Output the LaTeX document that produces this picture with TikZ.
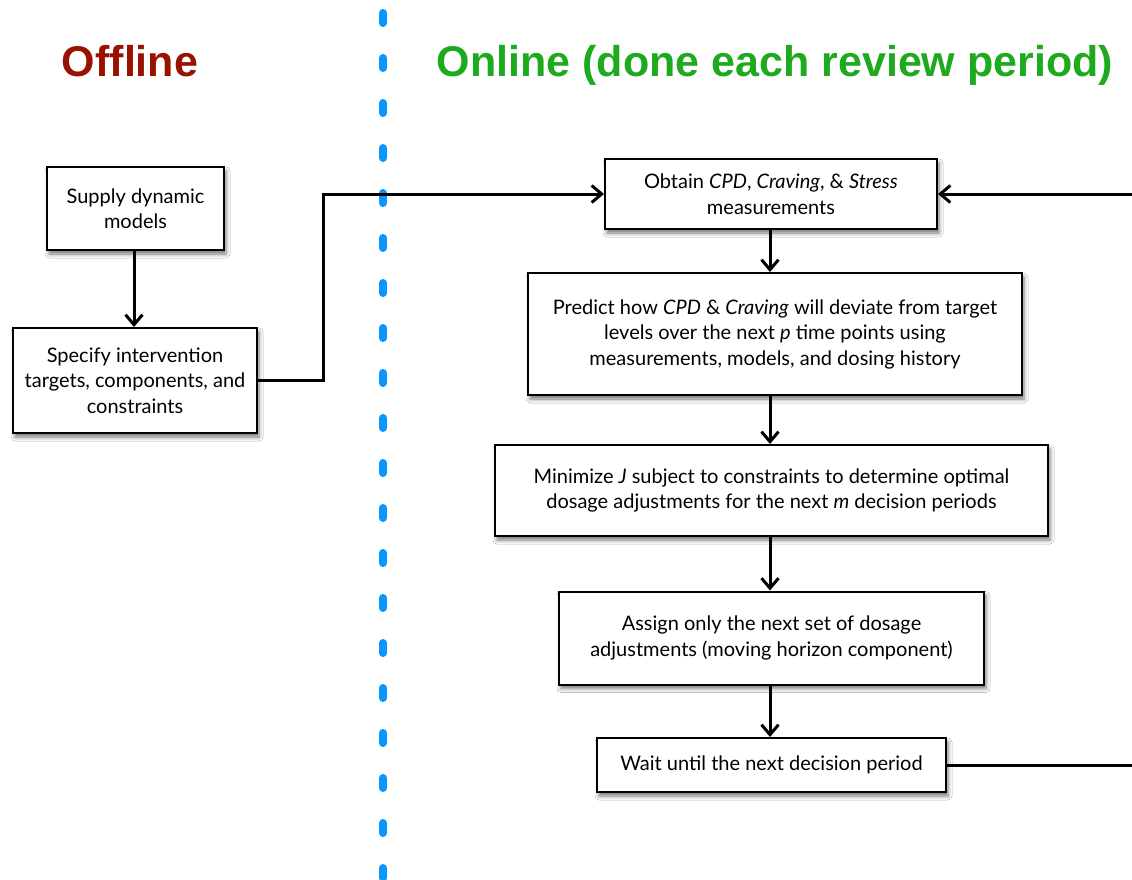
\documentclass[tikz,border=0pt]{standalone}
\usepackage{fontspec}
\setmainfont{Lato}
\newfontfamily\titlefont{Liberation Sans}
\usetikzlibrary{arrows.meta,shadows.blur}
\definecolor{offred}{RGB}{153,17,0}
\definecolor{ongreen}{RGB}{30,170,30}
\definecolor{dashblue}{RGB}{10,150,255}
\begin{document}
\begin{tikzpicture}[x=1pt,y=-1pt,
  box/.style={draw=black, line width=2pt, fill=white, align=center, inner sep=0pt,
    font=\fontsize{20}{25.5}\selectfont,
    blur shadow={shadow xshift=2pt, shadow yshift=-4pt, shadow blur radius=4pt, shadow opacity=55}},
  conn/.style={line width=3pt, -{Straight Barb[length=10pt,width=17pt]}},
  titletext/.style={font=\titlefont\bfseries\fontsize{43}{50}\selectfont, anchor=base}]
\useasboundingbox (0,0) rectangle (1132,880);
\clip (0,0) rectangle (1132,880);
\fill[white] (0,0) rectangle (1132,880);

% titles
\node[titletext, text=offred] (offline) at (130,77) {Offline};
\node[titletext, text=ongreen] (online) at (775,77) {Online (done each review period)};

% divider
\coordinate (divtop) at (383,13);
\coordinate (divbot) at (383,900);
\draw[dashblue, line width=8pt, line cap=round, dash pattern=on 10pt off 35pt] (divtop) -- (divbot);

% offline boxes
\node[box, minimum width=177pt, minimum height=83pt] (supply) at (135.5,208.5) {Supply dynamic\\models};
\node[box, minimum width=244pt, minimum height=105pt] (specify) at (135,380.5) {Specify intervention\\targets, components, and\\constraints};

% online boxes
\node[box, minimum width=332pt, minimum height=70pt] (obtain) at (771,194) {Obtain \textit{CPD}, \textit{Craving}, \& \textit{Stress}\\measurements};
\node[box, minimum width=494pt, minimum height=122pt] (predict) at (775,334) {Predict how \textit{CPD} \& \textit{Craving} will deviate from target\\levels over the next \textit{p} time points using\\measurements, models, and dosing history};
\node[box, minimum width=553pt, minimum height=91pt] (minimize) at (771.5,490.5) {Minimize \textit{J} subject to constraints to determine optimal\\dosage adjustments for the next \textit{m} decision periods};
\node[box, minimum width=425pt, minimum height=93pt] (assign) at (771.5,638) {Assign only the next set of dosage\\adjustments (moving horizon component)};
\node[box, minimum width=349pt, minimum height=54pt] (wait) at (771.5,765) {Wait until the next decision period};

% connectors
\coordinate (elbow) at (323,0);
\coordinate (loopx) at (1180,0);
\draw[conn] (supply.south -| 134,0) -- (specify.north -| 134,0);
\draw[conn] (specify.east) -- (specify.east -| elbow) |- (obtain.west);
\draw[conn] (obtain.south -| 770,0) -- (predict.north -| 770,0);
\draw[conn] (predict.south -| 770,0) -- (minimize.north -| 770,0);
\draw[conn] (minimize.south -| 770,0) -- (assign.north -| 770,0);
\draw[conn] (assign.south -| 770,0) -- (wait.north -| 770,0);
\draw[conn] (wait.east) -- (wait.east -| loopx) |- (obtain.east);
\end{tikzpicture}
\end{document}
